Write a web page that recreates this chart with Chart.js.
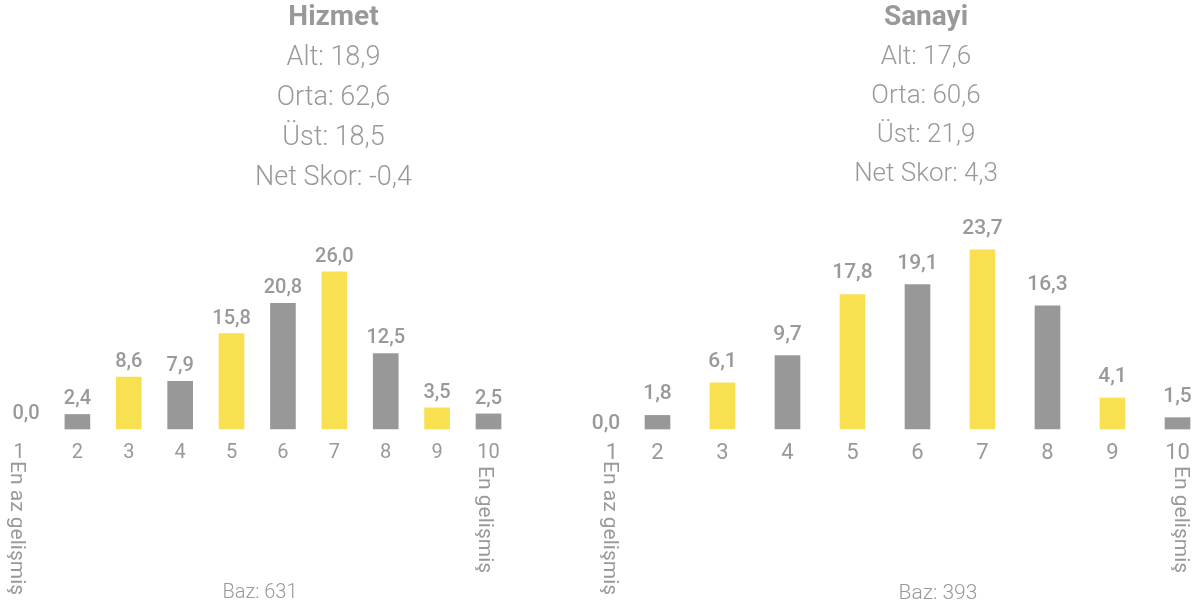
<!DOCTYPE html>
<html>
<head>
<meta charset="utf-8">
<script src="https://cdn.jsdelivr.net/npm/chart.js@4.4.1/dist/chart.umd.min.js"></script>
<style>
  body { margin: 0; width: 1201px; height: 607px; overflow: hidden; background: #fff; position: relative; font-family: Roboto, sans-serif; color: #999; }
  canvas { position: absolute; top: 0; }
  .head { position: absolute; top: 0; text-align: center; }
  .head .t { font-weight: 700; line-height: 32px; }
  .head .s { font-weight: 300; }
  .baz { position: absolute; font-weight: 300; line-height: 24px; text-align: center; width: 200px; }
  .side { position: absolute; writing-mode: vertical-rl; font-size: 21px; line-height: 22px; width: 22px; white-space: nowrap; }
</style>
</head>
<body>
<canvas id="hizmet" width="560" height="607" style="left:0"></canvas>
<canvas id="sanayi" width="641" height="607" style="left:560px"></canvas>

<div class="head" id="headL" style="left:0;width:667px"></div>
<div class="head" id="headR" style="left:726px;width:400px"></div>

<div class="baz" id="bazL" style="left:160px;top:579px;font-size:20px"></div>
<div class="baz" id="bazR" style="left:838px;top:580px;font-size:21px"></div>

<div class="side" id="lowL" style="left:7px;top:461px"></div>
<div class="side" id="highL" style="left:475px;top:466px"></div>
<div class="side" id="lowR" style="left:600px;top:461px"></div>
<div class="side" id="highR" style="left:1171px;top:466px"></div>

<script>
// categories 1..10
const categories = ['1', '2', '3', '4', '5', '6', '7', '8', '9', '10'];
const lowLabel = 'En az gelişmiş';
const highLabel = 'En gelişmiş';

// Hizmet
const hizmetTitle = 'Hizmet';
const hizmetLines = ['Alt: 18,9', 'Orta: 62,6', 'Üst: 18,5', 'Net Skor: -0,4'];
const hizmetValues = [0.0, 2.4, 8.6, 7.9, 15.8, 20.8, 26.0, 12.5, 3.5, 2.5];
const hizmetBase = 'Baz: 631';

// Sanayi
const sanayiTitle = 'Sanayi';
const sanayiLines = ['Alt: 17,6', 'Orta: 60,6', 'Üst: 21,9', 'Net Skor: 4,3'];
const sanayiValues = [0.0, 1.8, 6.1, 9.7, 17.8, 19.1, 23.7, 16.3, 4.1, 1.5];
const sanayiBase = 'Baz: 393';

const GRAY = '#989899';
const YELLOW = '#f9e050';
// 3,5,7,9 yellow, the rest gray; empty bars stay invisible
function barColor(ctx) {
  if (ctx.raw === 0) return 'rgba(0,0,0,0)';
  return (ctx.dataIndex > 0 && ctx.dataIndex % 2 === 0) ? YELLOW : GRAY;
}

function fillHead(id, title, lines, titleSize, lineSize, lineH) {
  const el = document.getElementById(id);
  el.innerHTML = '<div class="t" style="font-size:' + titleSize + 'px">' + title + '</div>' +
    '<div class="s" style="font-size:' + lineSize + 'px;line-height:' + lineH + 'px;margin-top:4px">' +
    lines.join('<br>') + '</div>';
}
fillHead('headL', hizmetTitle, hizmetLines, 28, 27, 40);
fillHead('headR', sanayiTitle, sanayiLines, 28, 26, 39);
document.getElementById('bazL').textContent = hizmetBase;
document.getElementById('bazR').textContent = sanayiBase;
document.getElementById('lowL').textContent = lowLabel;
document.getElementById('lowR').textContent = lowLabel;
document.getElementById('highL').textContent = highLabel;
document.getElementById('highR').textContent = highLabel;

// value labels above the bars + the category numbers underneath
const barText = {
  id: 'barText',
  afterDatasetsDraw(chart, args, o) {
    const ctx = chart.ctx;
    const meta = chart.getDatasetMeta(0);
    const values = chart.data.datasets[0].data;
    ctx.save();
    ctx.fillStyle = '#999';
    ctx.textAlign = 'center';
    ctx.textBaseline = 'alphabetic';
    ctx.font = '500 ' + o.valueSize + 'px Roboto';
    meta.data.forEach((bar, i) => {
      const v = values[i];
      const x = bar.x + (i === 0 ? o.firstValueShift : 0);
      const y = bar.y - (v > 0 ? o.valueGap : o.zeroGap);
      ctx.fillText(v.toFixed(1).replace('.', ','), x, y);
    });
    ctx.font = '400 ' + o.tickSize + 'px Roboto';
    chart.data.labels.forEach((lab, i) => {
      const x = chart.scales.x.getPixelForValue(i) + (i === 0 ? o.firstTickShift : 0);
      ctx.fillText(lab, x, o.tickY);
    });
    ctx.restore();
  }
};

function makeChart(id, values, opt) {
  return new Chart(document.getElementById(id), {
    type: 'bar',
    data: {
      labels: categories,
      datasets: [{ data: values, backgroundColor: barColor, barThickness: 25, clip: false }]
    },
    options: {
      responsive: false,
      animation: false,
      layout: { padding: opt.padding },
      plugins: {
        legend: { display: false },
        tooltip: { enabled: false },
        barText: opt.text
      },
      scales: {
        x: { display: false, offset: false },
        y: { display: false, min: 0, max: opt.max }
      }
    },
    plugins: [barText]
  });
}

makeChart('hizmet', hizmetValues, {
  padding: { left: 26, right: 71.5, top: 200, bottom: 178 },
  max: 37.9,
  text: { valueSize: 20, valueGap: 10, zeroGap: 10, firstValueShift: 0, tickSize: 20, tickY: 458, firstTickShift: -7 }
});
makeChart('sanayi', sanayiValues, {
  padding: { left: 32.5, right: 23.5, top: 200, bottom: 178 },
  max: 30.3,
  text: { valueSize: 21, valueGap: 16, zeroGap: 0, firstValueShift: 13.5, tickSize: 22, tickY: 459, firstTickShift: 19.5 }
});
</script>
</body>
</html>
